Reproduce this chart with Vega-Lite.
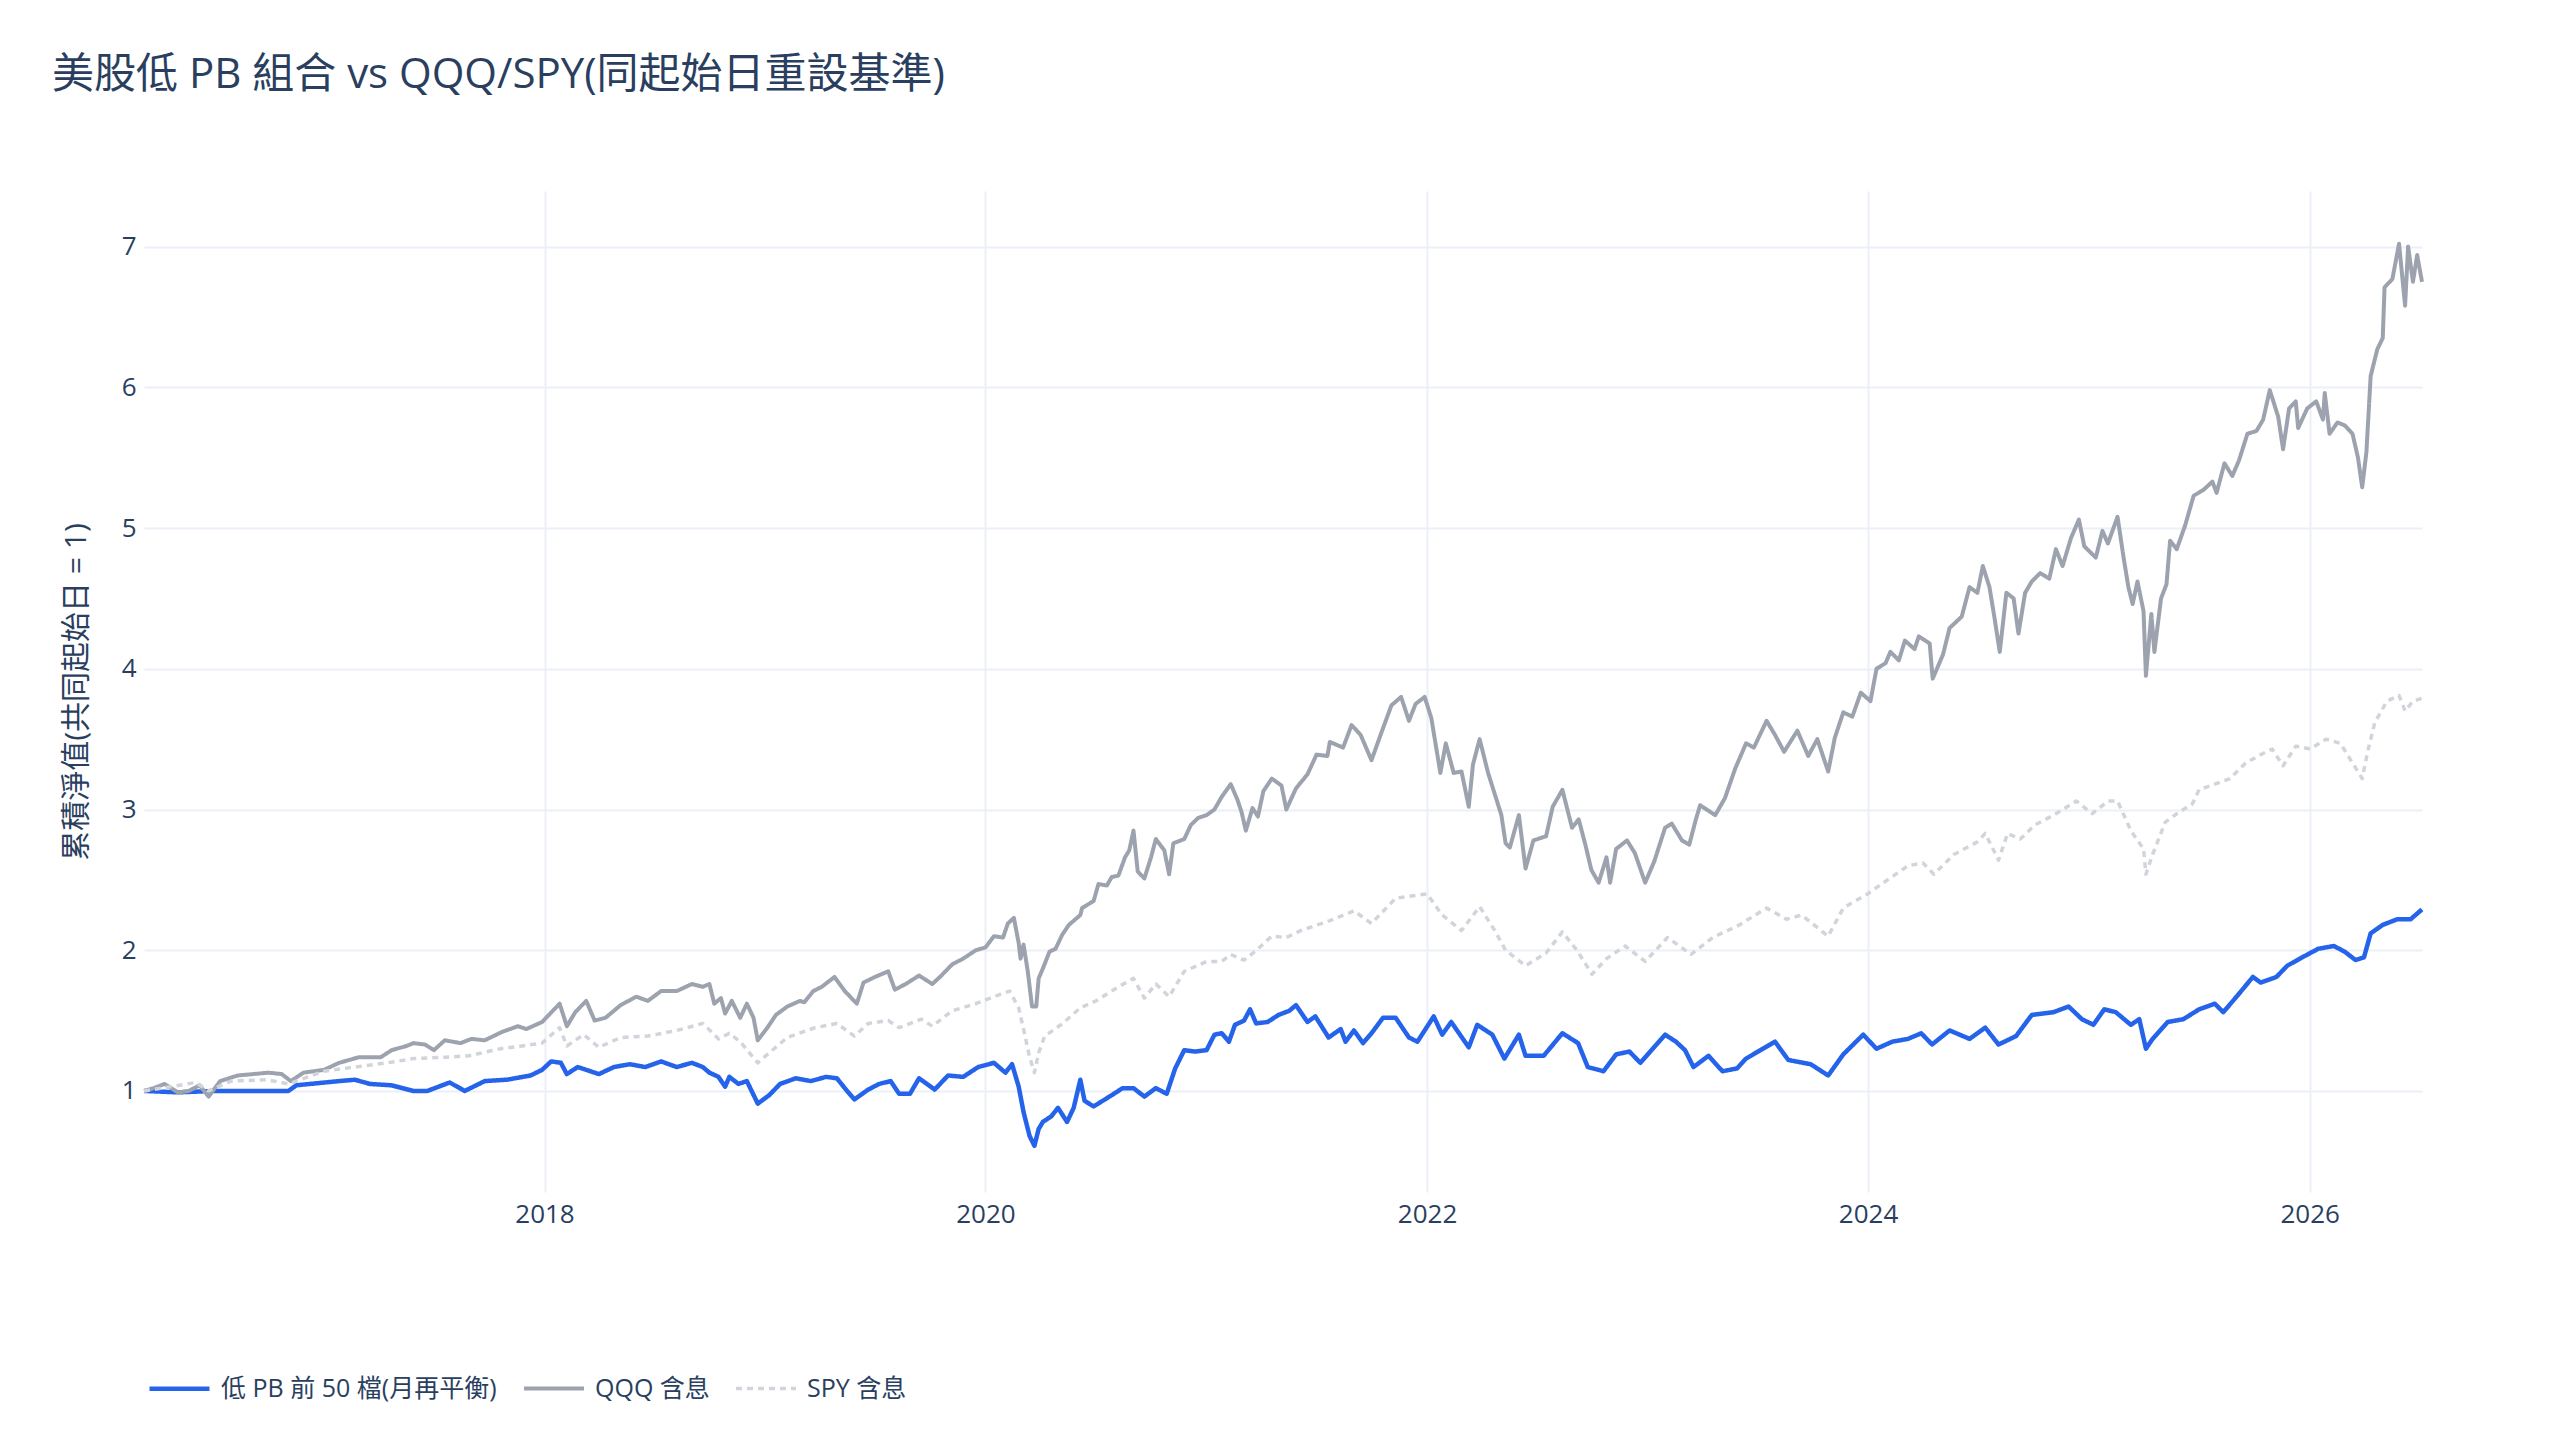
{
  "$schema": "https://vega.github.io/schema/vega-lite/v6.json",
  "autosize": {"type": "none"},
  "width": 2278,
  "height": 1001,
  "padding": {"left": 144, "top": 191, "right": 138, "bottom": 248},
  "background": "white",
  "title": {
    "text": "美股低 PB 組合 vs QQQ/SPY(同起始日重設基準)",
    "anchor": "start",
    "frame": "group",
    "dx": -92,
    "offset": 94,
    "font": "Open Sans, Noto Sans CJK TC",
    "fontSize": 42,
    "fontWeight": "normal",
    "color": "#2a3f5f"
  },
  "config": {
    "view": {"stroke": null},
    "axis": {
      "domain": false,
      "ticks": false,
      "gridColor": "#ebf0f8",
      "gridWidth": 2,
      "labelFont": "Open Sans, Noto Sans CJK TC",
      "labelFontSize": 26,
      "labelColor": "#2a3f5f",
      "titleFont": "Open Sans, Noto Sans CJK TC",
      "titleFontSize": 30,
      "titleFontWeight": "normal",
      "titleColor": "#2a3f5f"
    }
  },
  "data": {
    "values": [
      {"date": "2016-03-09", "series": "低 PB 前 50 檔(月再平衡)", "value": 1.0},
      {"date": "2016-05-04", "series": "低 PB 前 50 檔(月再平衡)", "value": 0.99},
      {"date": "2016-07-02", "series": "低 PB 前 50 檔(月再平衡)", "value": 1.0},
      {"date": "2016-09-06", "series": "低 PB 前 50 檔(月再平衡)", "value": 1.0},
      {"date": "2016-11-03", "series": "低 PB 前 50 檔(月再平衡)", "value": 1.0},
      {"date": "2016-11-16", "series": "低 PB 前 50 檔(月再平衡)", "value": 1.04},
      {"date": "2016-12-09", "series": "低 PB 前 50 檔(月再平衡)", "value": 1.05},
      {"date": "2017-01-26", "series": "低 PB 前 50 檔(月再平衡)", "value": 1.07},
      {"date": "2017-02-21", "series": "低 PB 前 50 檔(月再平衡)", "value": 1.08},
      {"date": "2017-03-18", "series": "低 PB 前 50 檔(月再平衡)", "value": 1.05},
      {"date": "2017-04-23", "series": "低 PB 前 50 檔(月再平衡)", "value": 1.04},
      {"date": "2017-05-29", "series": "低 PB 前 50 檔(月再平衡)", "value": 1.0},
      {"date": "2017-06-21", "series": "低 PB 前 50 檔(月再平衡)", "value": 1.0},
      {"date": "2017-07-28", "series": "低 PB 前 50 檔(月再平衡)", "value": 1.06},
      {"date": "2017-08-22", "series": "低 PB 前 50 檔(月再平衡)", "value": 1.0},
      {"date": "2017-09-24", "series": "低 PB 前 50 檔(月再平衡)", "value": 1.07},
      {"date": "2017-10-31", "series": "低 PB 前 50 檔(月再平衡)", "value": 1.08},
      {"date": "2017-12-09", "series": "低 PB 前 50 檔(月再平衡)", "value": 1.11},
      {"date": "2017-12-28", "series": "低 PB 前 50 檔(月再平衡)", "value": 1.15},
      {"date": "2018-01-12", "series": "低 PB 前 50 檔(月再平衡)", "value": 1.21},
      {"date": "2018-01-28", "series": "低 PB 前 50 檔(月再平衡)", "value": 1.2},
      {"date": "2018-02-07", "series": "低 PB 前 50 檔(月再平衡)", "value": 1.12},
      {"date": "2018-02-25", "series": "低 PB 前 50 檔(月再平衡)", "value": 1.17},
      {"date": "2018-03-18", "series": "低 PB 前 50 檔(月再平衡)", "value": 1.14},
      {"date": "2018-04-01", "series": "低 PB 前 50 檔(月再平衡)", "value": 1.12},
      {"date": "2018-04-26", "series": "低 PB 前 50 檔(月再平衡)", "value": 1.17},
      {"date": "2018-05-22", "series": "低 PB 前 50 檔(月再平衡)", "value": 1.19},
      {"date": "2018-06-17", "series": "低 PB 前 50 檔(月再平衡)", "value": 1.17},
      {"date": "2018-07-13", "series": "低 PB 前 50 檔(月再平衡)", "value": 1.21},
      {"date": "2018-08-08", "series": "低 PB 前 50 檔(月再平衡)", "value": 1.17},
      {"date": "2018-09-02", "series": "低 PB 前 50 檔(月再平衡)", "value": 1.2},
      {"date": "2018-09-20", "series": "低 PB 前 50 檔(月再平衡)", "value": 1.17},
      {"date": "2018-10-01", "series": "低 PB 前 50 檔(月再平衡)", "value": 1.13},
      {"date": "2018-10-16", "series": "低 PB 前 50 檔(月再平衡)", "value": 1.1},
      {"date": "2018-10-27", "series": "低 PB 前 50 檔(月再平衡)", "value": 1.03},
      {"date": "2018-11-03", "series": "低 PB 前 50 檔(月再平衡)", "value": 1.1},
      {"date": "2018-11-18", "series": "低 PB 前 50 檔(月再平衡)", "value": 1.05},
      {"date": "2018-12-02", "series": "低 PB 前 50 檔(月再平衡)", "value": 1.07},
      {"date": "2018-12-20", "series": "低 PB 前 50 檔(月再平衡)", "value": 0.91},
      {"date": "2019-01-08", "series": "低 PB 前 50 檔(月再平衡)", "value": 0.97},
      {"date": "2019-01-26", "series": "低 PB 前 50 檔(月再平衡)", "value": 1.05},
      {"date": "2019-02-21", "series": "低 PB 前 50 檔(月再平衡)", "value": 1.09},
      {"date": "2019-03-18", "series": "低 PB 前 50 檔(月再平衡)", "value": 1.07},
      {"date": "2019-04-12", "series": "低 PB 前 50 檔(月再平衡)", "value": 1.1},
      {"date": "2019-04-30", "series": "低 PB 前 50 檔(月再平衡)", "value": 1.09},
      {"date": "2019-05-15", "series": "低 PB 前 50 檔(月再平衡)", "value": 1.01},
      {"date": "2019-05-29", "series": "低 PB 前 50 檔(月再平衡)", "value": 0.94},
      {"date": "2019-06-21", "series": "低 PB 前 50 檔(月再平衡)", "value": 1.01},
      {"date": "2019-07-09", "series": "低 PB 前 50 檔(月再平衡)", "value": 1.05},
      {"date": "2019-07-28", "series": "低 PB 前 50 檔(月再平衡)", "value": 1.07},
      {"date": "2019-08-11", "series": "低 PB 前 50 檔(月再平衡)", "value": 0.98},
      {"date": "2019-08-29", "series": "低 PB 前 50 檔(月再平衡)", "value": 0.98},
      {"date": "2019-09-13", "series": "低 PB 前 50 檔(月再平衡)", "value": 1.09},
      {"date": "2019-10-09", "series": "低 PB 前 50 檔(月再平衡)", "value": 1.01},
      {"date": "2019-10-31", "series": "低 PB 前 50 檔(月再平衡)", "value": 1.11},
      {"date": "2019-11-25", "series": "低 PB 前 50 檔(月再平衡)", "value": 1.1},
      {"date": "2019-12-20", "series": "低 PB 前 50 檔(月再平衡)", "value": 1.17},
      {"date": "2020-01-15", "series": "低 PB 前 50 檔(月再平衡)", "value": 1.2},
      {"date": "2020-02-03", "series": "低 PB 前 50 檔(月再平衡)", "value": 1.13},
      {"date": "2020-02-14", "series": "低 PB 前 50 檔(月再平衡)", "value": 1.19},
      {"date": "2020-02-25", "series": "低 PB 前 50 檔(月再平衡)", "value": 1.03},
      {"date": "2020-03-04", "series": "低 PB 前 50 檔(月再平衡)", "value": 0.85},
      {"date": "2020-03-14", "series": "低 PB 前 50 檔(月再平衡)", "value": 0.68},
      {"date": "2020-03-22", "series": "低 PB 前 50 檔(月再平衡)", "value": 0.61},
      {"date": "2020-03-29", "series": "低 PB 前 50 檔(月再平衡)", "value": 0.73},
      {"date": "2020-04-05", "series": "低 PB 前 50 檔(月再平衡)", "value": 0.78},
      {"date": "2020-04-19", "series": "低 PB 前 50 檔(月再平衡)", "value": 0.82},
      {"date": "2020-04-30", "series": "低 PB 前 50 檔(月再平衡)", "value": 0.88},
      {"date": "2020-05-15", "series": "低 PB 前 50 檔(月再平衡)", "value": 0.78},
      {"date": "2020-05-26", "series": "低 PB 前 50 檔(月再平衡)", "value": 0.88},
      {"date": "2020-06-06", "series": "低 PB 前 50 檔(月再平衡)", "value": 1.08},
      {"date": "2020-06-13", "series": "低 PB 前 50 檔(月再平衡)", "value": 0.93},
      {"date": "2020-06-28", "series": "低 PB 前 50 檔(月再平衡)", "value": 0.89},
      {"date": "2020-07-13", "series": "低 PB 前 50 檔(月再平衡)", "value": 0.93},
      {"date": "2020-07-28", "series": "低 PB 前 50 檔(月再平衡)", "value": 0.97},
      {"date": "2020-08-15", "series": "低 PB 前 50 檔(月再平衡)", "value": 1.02},
      {"date": "2020-09-02", "series": "低 PB 前 50 檔(月再平衡)", "value": 1.02},
      {"date": "2020-09-20", "series": "低 PB 前 50 檔(月再平衡)", "value": 0.96},
      {"date": "2020-10-09", "series": "低 PB 前 50 檔(月再平衡)", "value": 1.02},
      {"date": "2020-10-27", "series": "低 PB 前 50 檔(月再平衡)", "value": 0.98},
      {"date": "2020-11-10", "series": "低 PB 前 50 檔(月再平衡)", "value": 1.16},
      {"date": "2020-11-25", "series": "低 PB 前 50 檔(月再平衡)", "value": 1.29},
      {"date": "2020-12-13", "series": "低 PB 前 50 檔(月再平衡)", "value": 1.28},
      {"date": "2021-01-01", "series": "低 PB 前 50 檔(月再平衡)", "value": 1.29},
      {"date": "2021-01-14", "series": "低 PB 前 50 檔(月再平衡)", "value": 1.4},
      {"date": "2021-01-26", "series": "低 PB 前 50 檔(月再平衡)", "value": 1.41},
      {"date": "2021-02-07", "series": "低 PB 前 50 檔(月再平衡)", "value": 1.35},
      {"date": "2021-02-17", "series": "低 PB 前 50 檔(月再平衡)", "value": 1.47},
      {"date": "2021-03-04", "series": "低 PB 前 50 檔(月再平衡)", "value": 1.5},
      {"date": "2021-03-14", "series": "低 PB 前 50 檔(月再平衡)", "value": 1.58},
      {"date": "2021-03-24", "series": "低 PB 前 50 檔(月再平衡)", "value": 1.48},
      {"date": "2021-04-12", "series": "低 PB 前 50 檔(月再平衡)", "value": 1.49},
      {"date": "2021-04-30", "series": "低 PB 前 50 檔(月再平衡)", "value": 1.54},
      {"date": "2021-05-18", "series": "低 PB 前 50 檔(月再平衡)", "value": 1.57},
      {"date": "2021-05-29", "series": "低 PB 前 50 檔(月再平衡)", "value": 1.61},
      {"date": "2021-06-17", "series": "低 PB 前 50 檔(月再平衡)", "value": 1.49},
      {"date": "2021-06-30", "series": "低 PB 前 50 檔(月再平衡)", "value": 1.53},
      {"date": "2021-07-22", "series": "低 PB 前 50 檔(月再平衡)", "value": 1.38},
      {"date": "2021-08-11", "series": "低 PB 前 50 檔(月再平衡)", "value": 1.44},
      {"date": "2021-08-19", "series": "低 PB 前 50 檔(月再平衡)", "value": 1.35},
      {"date": "2021-09-02", "series": "低 PB 前 50 檔(月再平衡)", "value": 1.43},
      {"date": "2021-09-17", "series": "低 PB 前 50 檔(月再平衡)", "value": 1.34},
      {"date": "2021-10-01", "series": "低 PB 前 50 檔(月再平衡)", "value": 1.41},
      {"date": "2021-10-20", "series": "低 PB 前 50 檔(月再平衡)", "value": 1.52},
      {"date": "2021-11-10", "series": "低 PB 前 50 檔(月再平衡)", "value": 1.52},
      {"date": "2021-12-02", "series": "低 PB 前 50 檔(月再平衡)", "value": 1.38},
      {"date": "2021-12-16", "series": "低 PB 前 50 檔(月再平衡)", "value": 1.35},
      {"date": "2022-01-12", "series": "低 PB 前 50 檔(月再平衡)", "value": 1.53},
      {"date": "2022-01-26", "series": "低 PB 前 50 檔(月再平衡)", "value": 1.4},
      {"date": "2022-02-10", "series": "低 PB 前 50 檔(月再平衡)", "value": 1.49},
      {"date": "2022-03-11", "series": "低 PB 前 50 檔(月再平衡)", "value": 1.31},
      {"date": "2022-03-25", "series": "低 PB 前 50 檔(月再平衡)", "value": 1.47},
      {"date": "2022-04-19", "series": "低 PB 前 50 檔(月再平衡)", "value": 1.4},
      {"date": "2022-05-09", "series": "低 PB 前 50 檔(月再平衡)", "value": 1.23},
      {"date": "2022-06-02", "series": "低 PB 前 50 檔(月再平衡)", "value": 1.4},
      {"date": "2022-06-13", "series": "低 PB 前 50 檔(月再平衡)", "value": 1.25},
      {"date": "2022-07-13", "series": "低 PB 前 50 檔(月再平衡)", "value": 1.25},
      {"date": "2022-08-13", "series": "低 PB 前 50 檔(月再平衡)", "value": 1.41},
      {"date": "2022-09-08", "series": "低 PB 前 50 檔(月再平衡)", "value": 1.34},
      {"date": "2022-09-24", "series": "低 PB 前 50 檔(月再平衡)", "value": 1.17},
      {"date": "2022-10-20", "series": "低 PB 前 50 檔(月再平衡)", "value": 1.14},
      {"date": "2022-11-10", "series": "低 PB 前 50 檔(月再平衡)", "value": 1.26},
      {"date": "2022-12-02", "series": "低 PB 前 50 檔(月再平衡)", "value": 1.28},
      {"date": "2022-12-20", "series": "低 PB 前 50 檔(月再平衡)", "value": 1.2},
      {"date": "2023-01-30", "series": "低 PB 前 50 檔(月再平衡)", "value": 1.4},
      {"date": "2023-02-17", "series": "低 PB 前 50 檔(月再平衡)", "value": 1.35},
      {"date": "2023-03-04", "series": "低 PB 前 50 檔(月再平衡)", "value": 1.29},
      {"date": "2023-03-18", "series": "低 PB 前 50 檔(月再平衡)", "value": 1.17},
      {"date": "2023-04-12", "series": "低 PB 前 50 檔(月再平衡)", "value": 1.25},
      {"date": "2023-05-05", "series": "低 PB 前 50 檔(月再平衡)", "value": 1.14},
      {"date": "2023-05-29", "series": "低 PB 前 50 檔(月再平衡)", "value": 1.16},
      {"date": "2023-06-13", "series": "低 PB 前 50 檔(月再平衡)", "value": 1.23},
      {"date": "2023-07-31", "series": "低 PB 前 50 檔(月再平衡)", "value": 1.35},
      {"date": "2023-08-22", "series": "低 PB 前 50 檔(月再平衡)", "value": 1.22},
      {"date": "2023-09-28", "series": "低 PB 前 50 檔(月再平衡)", "value": 1.19},
      {"date": "2023-10-27", "series": "低 PB 前 50 檔(月再平衡)", "value": 1.11},
      {"date": "2023-11-21", "series": "低 PB 前 50 檔(月再平衡)", "value": 1.26},
      {"date": "2023-12-24", "series": "低 PB 前 50 檔(月再平衡)", "value": 1.4},
      {"date": "2024-01-15", "series": "低 PB 前 50 檔(月再平衡)", "value": 1.3},
      {"date": "2024-02-10", "series": "低 PB 前 50 檔(月再平衡)", "value": 1.35},
      {"date": "2024-03-07", "series": "低 PB 前 50 檔(月再平衡)", "value": 1.37},
      {"date": "2024-03-29", "series": "低 PB 前 50 檔(月再平衡)", "value": 1.41},
      {"date": "2024-04-16", "series": "低 PB 前 50 檔(月再平衡)", "value": 1.33},
      {"date": "2024-05-15", "series": "低 PB 前 50 檔(月再平衡)", "value": 1.43},
      {"date": "2024-06-17", "series": "低 PB 前 50 檔(月再平衡)", "value": 1.37},
      {"date": "2024-07-13", "series": "低 PB 前 50 檔(月再平衡)", "value": 1.45},
      {"date": "2024-08-04", "series": "低 PB 前 50 檔(月再平衡)", "value": 1.33},
      {"date": "2024-09-02", "series": "低 PB 前 50 檔(月再平衡)", "value": 1.39},
      {"date": "2024-09-28", "series": "低 PB 前 50 檔(月再平衡)", "value": 1.54},
      {"date": "2024-11-03", "series": "低 PB 前 50 檔(月再平衡)", "value": 1.56},
      {"date": "2024-11-28", "series": "低 PB 前 50 檔(月再平衡)", "value": 1.6},
      {"date": "2024-12-20", "series": "低 PB 前 50 檔(月再平衡)", "value": 1.51},
      {"date": "2025-01-08", "series": "低 PB 前 50 檔(月再平衡)", "value": 1.47},
      {"date": "2025-01-26", "series": "低 PB 前 50 檔(月再平衡)", "value": 1.58},
      {"date": "2025-02-14", "series": "低 PB 前 50 檔(月再平衡)", "value": 1.56},
      {"date": "2025-03-11", "series": "低 PB 前 50 檔(月再平衡)", "value": 1.47},
      {"date": "2025-03-25", "series": "低 PB 前 50 檔(月再平衡)", "value": 1.51},
      {"date": "2025-04-05", "series": "低 PB 前 50 檔(月再平衡)", "value": 1.3},
      {"date": "2025-04-16", "series": "低 PB 前 50 檔(月再平衡)", "value": 1.37},
      {"date": "2025-05-11", "series": "低 PB 前 50 檔(月再平衡)", "value": 1.49},
      {"date": "2025-06-06", "series": "低 PB 前 50 檔(月再平衡)", "value": 1.51},
      {"date": "2025-07-02", "series": "低 PB 前 50 檔(月再平衡)", "value": 1.58},
      {"date": "2025-07-28", "series": "低 PB 前 50 檔(月再平衡)", "value": 1.62},
      {"date": "2025-08-11", "series": "低 PB 前 50 檔(月再平衡)", "value": 1.56},
      {"date": "2025-09-04", "series": "低 PB 前 50 檔(月再平衡)", "value": 1.68},
      {"date": "2025-09-29", "series": "低 PB 前 50 檔(月再平衡)", "value": 1.81},
      {"date": "2025-10-12", "series": "低 PB 前 50 檔(月再平衡)", "value": 1.77},
      {"date": "2025-11-07", "series": "低 PB 前 50 檔(月再平衡)", "value": 1.81},
      {"date": "2025-11-25", "series": "低 PB 前 50 檔(月再平衡)", "value": 1.89},
      {"date": "2025-12-20", "series": "低 PB 前 50 檔(月再平衡)", "value": 1.95},
      {"date": "2026-01-15", "series": "低 PB 前 50 檔(月再平衡)", "value": 2.01},
      {"date": "2026-02-10", "series": "低 PB 前 50 檔(月再平衡)", "value": 2.03},
      {"date": "2026-02-28", "series": "低 PB 前 50 檔(月再平衡)", "value": 1.99},
      {"date": "2026-03-18", "series": "低 PB 前 50 檔(月再平衡)", "value": 1.93},
      {"date": "2026-04-01", "series": "低 PB 前 50 檔(月再平衡)", "value": 1.95},
      {"date": "2026-04-12", "series": "低 PB 前 50 檔(月再平衡)", "value": 2.12},
      {"date": "2026-05-02", "series": "低 PB 前 50 檔(月再平衡)", "value": 2.18},
      {"date": "2026-05-26", "series": "低 PB 前 50 檔(月再平衡)", "value": 2.22},
      {"date": "2026-06-17", "series": "低 PB 前 50 檔(月再平衡)", "value": 2.22},
      {"date": "2026-07-06", "series": "低 PB 前 50 檔(月再平衡)", "value": 2.29},

      {"date": "2016-03-09", "series": "QQQ 含息", "value": 1.0},
      {"date": "2016-03-25", "series": "QQQ 含息", "value": 1.02},
      {"date": "2016-04-12", "series": "QQQ 含息", "value": 1.05},
      {"date": "2016-05-04", "series": "QQQ 含息", "value": 0.99},
      {"date": "2016-05-22", "series": "QQQ 含息", "value": 1.0},
      {"date": "2016-06-09", "series": "QQQ 含息", "value": 1.04},
      {"date": "2016-06-24", "series": "QQQ 含息", "value": 0.96},
      {"date": "2016-07-13", "series": "QQQ 含息", "value": 1.07},
      {"date": "2016-08-11", "series": "QQQ 含息", "value": 1.11},
      {"date": "2016-09-06", "series": "QQQ 含息", "value": 1.12},
      {"date": "2016-10-01", "series": "QQQ 含息", "value": 1.13},
      {"date": "2016-10-23", "series": "QQQ 含息", "value": 1.12},
      {"date": "2016-11-07", "series": "QQQ 含息", "value": 1.07},
      {"date": "2016-11-28", "series": "QQQ 含息", "value": 1.13},
      {"date": "2017-01-01", "series": "QQQ 含息", "value": 1.15},
      {"date": "2017-01-26", "series": "QQQ 含息", "value": 1.2},
      {"date": "2017-02-28", "series": "QQQ 含息", "value": 1.24},
      {"date": "2017-04-05", "series": "QQQ 含息", "value": 1.24},
      {"date": "2017-04-23", "series": "QQQ 含息", "value": 1.29},
      {"date": "2017-05-18", "series": "QQQ 含息", "value": 1.32},
      {"date": "2017-05-29", "series": "QQQ 含息", "value": 1.34},
      {"date": "2017-06-17", "series": "QQQ 含息", "value": 1.33},
      {"date": "2017-07-02", "series": "QQQ 含息", "value": 1.29},
      {"date": "2017-07-20", "series": "QQQ 含息", "value": 1.36},
      {"date": "2017-08-15", "series": "QQQ 含息", "value": 1.34},
      {"date": "2017-09-02", "series": "QQQ 含息", "value": 1.37},
      {"date": "2017-09-24", "series": "QQQ 含息", "value": 1.36},
      {"date": "2017-10-23", "series": "QQQ 含息", "value": 1.42},
      {"date": "2017-11-18", "series": "QQQ 含息", "value": 1.46},
      {"date": "2017-12-02", "series": "QQQ 含息", "value": 1.44},
      {"date": "2017-12-28", "series": "QQQ 含息", "value": 1.49},
      {"date": "2018-01-26", "series": "QQQ 含息", "value": 1.62},
      {"date": "2018-02-07", "series": "QQQ 含息", "value": 1.46},
      {"date": "2018-02-21", "series": "QQQ 含息", "value": 1.56},
      {"date": "2018-03-11", "series": "QQQ 含息", "value": 1.64},
      {"date": "2018-03-25", "series": "QQQ 含息", "value": 1.5},
      {"date": "2018-04-12", "series": "QQQ 含息", "value": 1.52},
      {"date": "2018-05-07", "series": "QQQ 含息", "value": 1.61},
      {"date": "2018-06-02", "series": "QQQ 含息", "value": 1.67},
      {"date": "2018-06-21", "series": "QQQ 含息", "value": 1.64},
      {"date": "2018-07-13", "series": "QQQ 含息", "value": 1.71},
      {"date": "2018-08-08", "series": "QQQ 含息", "value": 1.71},
      {"date": "2018-09-02", "series": "QQQ 含息", "value": 1.76},
      {"date": "2018-09-20", "series": "QQQ 含息", "value": 1.74},
      {"date": "2018-10-01", "series": "QQQ 含息", "value": 1.76},
      {"date": "2018-10-09", "series": "QQQ 含息", "value": 1.62},
      {"date": "2018-10-20", "series": "QQQ 含息", "value": 1.66},
      {"date": "2018-10-27", "series": "QQQ 含息", "value": 1.55},
      {"date": "2018-11-07", "series": "QQQ 含息", "value": 1.64},
      {"date": "2018-11-21", "series": "QQQ 含息", "value": 1.52},
      {"date": "2018-12-02", "series": "QQQ 含息", "value": 1.62},
      {"date": "2018-12-13", "series": "QQQ 含息", "value": 1.52},
      {"date": "2018-12-20", "series": "QQQ 含息", "value": 1.36},
      {"date": "2019-01-05", "series": "QQQ 含息", "value": 1.45},
      {"date": "2019-01-19", "series": "QQQ 含息", "value": 1.54},
      {"date": "2019-02-07", "series": "QQQ 含息", "value": 1.6},
      {"date": "2019-02-28", "series": "QQQ 含息", "value": 1.64},
      {"date": "2019-03-07", "series": "QQQ 含息", "value": 1.63},
      {"date": "2019-03-22", "series": "QQQ 含息", "value": 1.71},
      {"date": "2019-04-05", "series": "QQQ 含息", "value": 1.74},
      {"date": "2019-04-26", "series": "QQQ 含息", "value": 1.81},
      {"date": "2019-05-13", "series": "QQQ 含息", "value": 1.71},
      {"date": "2019-06-02", "series": "QQQ 含息", "value": 1.62},
      {"date": "2019-06-13", "series": "QQQ 含息", "value": 1.77},
      {"date": "2019-07-02", "series": "QQQ 含息", "value": 1.81},
      {"date": "2019-07-24", "series": "QQQ 含息", "value": 1.85},
      {"date": "2019-08-04", "series": "QQQ 含息", "value": 1.72},
      {"date": "2019-08-22", "series": "QQQ 含息", "value": 1.76},
      {"date": "2019-09-13", "series": "QQQ 含息", "value": 1.82},
      {"date": "2019-10-05", "series": "QQQ 含息", "value": 1.76},
      {"date": "2019-10-20", "series": "QQQ 含息", "value": 1.82},
      {"date": "2019-11-07", "series": "QQQ 含息", "value": 1.9},
      {"date": "2019-11-25", "series": "QQQ 含息", "value": 1.94},
      {"date": "2019-12-16", "series": "QQQ 含息", "value": 2.0},
      {"date": "2020-01-01", "series": "QQQ 含息", "value": 2.02},
      {"date": "2020-01-15", "series": "QQQ 含息", "value": 2.1},
      {"date": "2020-01-30", "series": "QQQ 含息", "value": 2.09},
      {"date": "2020-02-07", "series": "QQQ 含息", "value": 2.19},
      {"date": "2020-02-17", "series": "QQQ 含息", "value": 2.23},
      {"date": "2020-02-25", "series": "QQQ 含息", "value": 2.05},
      {"date": "2020-02-28", "series": "QQQ 含息", "value": 1.94},
      {"date": "2020-03-04", "series": "QQQ 含息", "value": 2.04},
      {"date": "2020-03-11", "series": "QQQ 含息", "value": 1.85},
      {"date": "2020-03-18", "series": "QQQ 含息", "value": 1.6},
      {"date": "2020-03-25", "series": "QQQ 含息", "value": 1.6},
      {"date": "2020-03-29", "series": "QQQ 含息", "value": 1.8},
      {"date": "2020-04-05", "series": "QQQ 含息", "value": 1.87},
      {"date": "2020-04-16", "series": "QQQ 含息", "value": 1.99},
      {"date": "2020-04-26", "series": "QQQ 含息", "value": 2.01},
      {"date": "2020-05-07", "series": "QQQ 含息", "value": 2.11},
      {"date": "2020-05-18", "series": "QQQ 含息", "value": 2.18},
      {"date": "2020-06-06", "series": "QQQ 含息", "value": 2.25},
      {"date": "2020-06-09", "series": "QQQ 含息", "value": 2.3},
      {"date": "2020-06-28", "series": "QQQ 含息", "value": 2.35},
      {"date": "2020-07-06", "series": "QQQ 含息", "value": 2.47},
      {"date": "2020-07-20", "series": "QQQ 含息", "value": 2.46},
      {"date": "2020-07-28", "series": "QQQ 含息", "value": 2.52},
      {"date": "2020-08-08", "series": "QQQ 含息", "value": 2.53},
      {"date": "2020-08-19", "series": "QQQ 含息", "value": 2.66},
      {"date": "2020-08-26", "series": "QQQ 含息", "value": 2.71},
      {"date": "2020-09-02", "series": "QQQ 含息", "value": 2.85},
      {"date": "2020-09-09", "series": "QQQ 含息", "value": 2.56},
      {"date": "2020-09-20", "series": "QQQ 含息", "value": 2.51},
      {"date": "2020-10-01", "series": "QQQ 含息", "value": 2.66},
      {"date": "2020-10-09", "series": "QQQ 含息", "value": 2.79},
      {"date": "2020-10-23", "series": "QQQ 含息", "value": 2.71},
      {"date": "2020-10-31", "series": "QQQ 含息", "value": 2.54},
      {"date": "2020-11-07", "series": "QQQ 含息", "value": 2.76},
      {"date": "2020-11-25", "series": "QQQ 含息", "value": 2.79},
      {"date": "2020-12-06", "series": "QQQ 含息", "value": 2.89},
      {"date": "2020-12-18", "series": "QQQ 含息", "value": 2.94},
      {"date": "2021-01-01", "series": "QQQ 含息", "value": 2.96},
      {"date": "2021-01-14", "series": "QQQ 含息", "value": 3.0},
      {"date": "2021-01-26", "series": "QQQ 含息", "value": 3.09},
      {"date": "2021-02-10", "series": "QQQ 含息", "value": 3.18},
      {"date": "2021-02-21", "series": "QQQ 含息", "value": 3.07},
      {"date": "2021-02-28", "series": "QQQ 含息", "value": 2.98},
      {"date": "2021-03-07", "series": "QQQ 含息", "value": 2.85},
      {"date": "2021-03-18", "series": "QQQ 含息", "value": 3.01},
      {"date": "2021-03-27", "series": "QQQ 含息", "value": 2.95},
      {"date": "2021-04-05", "series": "QQQ 含息", "value": 3.13},
      {"date": "2021-04-19", "series": "QQQ 含息", "value": 3.22},
      {"date": "2021-05-05", "series": "QQQ 含息", "value": 3.17},
      {"date": "2021-05-13", "series": "QQQ 含息", "value": 3.0},
      {"date": "2021-05-29", "series": "QQQ 含息", "value": 3.15},
      {"date": "2021-06-17", "series": "QQQ 含息", "value": 3.25},
      {"date": "2021-07-02", "series": "QQQ 含息", "value": 3.39},
      {"date": "2021-07-20", "series": "QQQ 含息", "value": 3.38},
      {"date": "2021-07-24", "series": "QQQ 含息", "value": 3.48},
      {"date": "2021-08-15", "series": "QQQ 含息", "value": 3.44},
      {"date": "2021-08-29", "series": "QQQ 含息", "value": 3.6},
      {"date": "2021-09-13", "series": "QQQ 含息", "value": 3.53},
      {"date": "2021-10-01", "series": "QQQ 含息", "value": 3.35},
      {"date": "2021-10-16", "series": "QQQ 含息", "value": 3.53},
      {"date": "2021-11-03", "series": "QQQ 含息", "value": 3.74},
      {"date": "2021-11-19", "series": "QQQ 含息", "value": 3.8},
      {"date": "2021-12-02", "series": "QQQ 含息", "value": 3.63},
      {"date": "2021-12-13", "series": "QQQ 含息", "value": 3.75},
      {"date": "2021-12-28", "series": "QQQ 含息", "value": 3.8},
      {"date": "2022-01-08", "series": "QQQ 含息", "value": 3.65},
      {"date": "2022-01-23", "series": "QQQ 含息", "value": 3.26},
      {"date": "2022-02-01", "series": "QQQ 含息", "value": 3.47},
      {"date": "2022-02-14", "series": "QQQ 含息", "value": 3.26},
      {"date": "2022-02-27", "series": "QQQ 含息", "value": 3.27},
      {"date": "2022-03-11", "series": "QQQ 含息", "value": 3.02},
      {"date": "2022-03-18", "series": "QQQ 含息", "value": 3.32},
      {"date": "2022-03-29", "series": "QQQ 含息", "value": 3.5},
      {"date": "2022-04-12", "series": "QQQ 含息", "value": 3.26},
      {"date": "2022-04-23", "series": "QQQ 含息", "value": 3.11},
      {"date": "2022-05-04", "series": "QQQ 含息", "value": 2.96},
      {"date": "2022-05-11", "series": "QQQ 含息", "value": 2.76},
      {"date": "2022-05-18", "series": "QQQ 含息", "value": 2.73},
      {"date": "2022-06-02", "series": "QQQ 含息", "value": 2.96},
      {"date": "2022-06-13", "series": "QQQ 含息", "value": 2.58},
      {"date": "2022-06-26", "series": "QQQ 含息", "value": 2.78},
      {"date": "2022-07-17", "series": "QQQ 含息", "value": 2.81},
      {"date": "2022-07-28", "series": "QQQ 含息", "value": 3.02},
      {"date": "2022-08-13", "series": "QQQ 含息", "value": 3.14},
      {"date": "2022-08-29", "series": "QQQ 含息", "value": 2.87},
      {"date": "2022-09-09", "series": "QQQ 含息", "value": 2.93},
      {"date": "2022-09-20", "series": "QQQ 含息", "value": 2.75},
      {"date": "2022-09-30", "series": "QQQ 含息", "value": 2.57},
      {"date": "2022-10-12", "series": "QQQ 含息", "value": 2.48},
      {"date": "2022-10-25", "series": "QQQ 含息", "value": 2.66},
      {"date": "2022-10-31", "series": "QQQ 含息", "value": 2.48},
      {"date": "2022-11-10", "series": "QQQ 含息", "value": 2.72},
      {"date": "2022-11-28", "series": "QQQ 含息", "value": 2.78},
      {"date": "2022-12-11", "series": "QQQ 含息", "value": 2.69},
      {"date": "2022-12-28", "series": "QQQ 含息", "value": 2.48},
      {"date": "2023-01-12", "series": "QQQ 含息", "value": 2.63},
      {"date": "2023-01-30", "series": "QQQ 含息", "value": 2.87},
      {"date": "2023-02-10", "series": "QQQ 含息", "value": 2.9},
      {"date": "2023-02-27", "series": "QQQ 含息", "value": 2.78},
      {"date": "2023-03-11", "series": "QQQ 含息", "value": 2.75},
      {"date": "2023-03-22", "series": "QQQ 含息", "value": 2.93},
      {"date": "2023-03-29", "series": "QQQ 含息", "value": 3.03},
      {"date": "2023-04-23", "series": "QQQ 含息", "value": 2.96},
      {"date": "2023-05-09", "series": "QQQ 含息", "value": 3.08},
      {"date": "2023-05-26", "series": "QQQ 含息", "value": 3.29},
      {"date": "2023-06-13", "series": "QQQ 含息", "value": 3.47},
      {"date": "2023-06-26", "series": "QQQ 含息", "value": 3.44},
      {"date": "2023-07-17", "series": "QQQ 含息", "value": 3.63},
      {"date": "2023-07-31", "series": "QQQ 含息", "value": 3.53},
      {"date": "2023-08-15", "series": "QQQ 含息", "value": 3.41},
      {"date": "2023-09-06", "series": "QQQ 含息", "value": 3.56},
      {"date": "2023-09-24", "series": "QQQ 含息", "value": 3.38},
      {"date": "2023-10-09", "series": "QQQ 含息", "value": 3.5},
      {"date": "2023-10-27", "series": "QQQ 含息", "value": 3.27},
      {"date": "2023-11-07", "series": "QQQ 含息", "value": 3.51},
      {"date": "2023-11-21", "series": "QQQ 含息", "value": 3.69},
      {"date": "2023-12-06", "series": "QQQ 含息", "value": 3.66},
      {"date": "2023-12-20", "series": "QQQ 含息", "value": 3.83},
      {"date": "2024-01-05", "series": "QQQ 含息", "value": 3.77},
      {"date": "2024-01-15", "series": "QQQ 含息", "value": 4.0},
      {"date": "2024-01-30", "series": "QQQ 含息", "value": 4.04},
      {"date": "2024-02-07", "series": "QQQ 含息", "value": 4.12},
      {"date": "2024-02-21", "series": "QQQ 含息", "value": 4.06},
      {"date": "2024-03-02", "series": "QQQ 含息", "value": 4.2},
      {"date": "2024-03-18", "series": "QQQ 含息", "value": 4.14},
      {"date": "2024-03-25", "series": "QQQ 含息", "value": 4.23},
      {"date": "2024-04-12", "series": "QQQ 含息", "value": 4.18},
      {"date": "2024-04-17", "series": "QQQ 含息", "value": 3.93},
      {"date": "2024-05-04", "series": "QQQ 含息", "value": 4.1},
      {"date": "2024-05-15", "series": "QQQ 含息", "value": 4.29},
      {"date": "2024-06-04", "series": "QQQ 含息", "value": 4.37},
      {"date": "2024-06-17", "series": "QQQ 含息", "value": 4.58},
      {"date": "2024-06-30", "series": "QQQ 含息", "value": 4.54},
      {"date": "2024-07-09", "series": "QQQ 含息", "value": 4.73},
      {"date": "2024-07-20", "series": "QQQ 含息", "value": 4.58},
      {"date": "2024-07-28", "series": "QQQ 含息", "value": 4.37},
      {"date": "2024-08-06", "series": "QQQ 含息", "value": 4.12},
      {"date": "2024-08-17", "series": "QQQ 含息", "value": 4.54},
      {"date": "2024-08-29", "series": "QQQ 含息", "value": 4.5},
      {"date": "2024-09-06", "series": "QQQ 含息", "value": 4.25},
      {"date": "2024-09-17", "series": "QQQ 含息", "value": 4.54},
      {"date": "2024-09-28", "series": "QQQ 含息", "value": 4.62},
      {"date": "2024-10-12", "series": "QQQ 含息", "value": 4.68},
      {"date": "2024-10-27", "series": "QQQ 含息", "value": 4.64},
      {"date": "2024-11-07", "series": "QQQ 含息", "value": 4.85},
      {"date": "2024-11-18", "series": "QQQ 含息", "value": 4.73},
      {"date": "2024-12-02", "series": "QQQ 含息", "value": 4.93},
      {"date": "2024-12-15", "series": "QQQ 含息", "value": 5.06},
      {"date": "2024-12-24", "series": "QQQ 含息", "value": 4.87},
      {"date": "2025-01-12", "series": "QQQ 含息", "value": 4.79},
      {"date": "2025-01-23", "series": "QQQ 含息", "value": 4.98},
      {"date": "2025-02-01", "series": "QQQ 含息", "value": 4.89},
      {"date": "2025-02-17", "series": "QQQ 含息", "value": 5.08},
      {"date": "2025-02-27", "series": "QQQ 含息", "value": 4.79},
      {"date": "2025-03-07", "series": "QQQ 含息", "value": 4.58},
      {"date": "2025-03-14", "series": "QQQ 含息", "value": 4.46},
      {"date": "2025-03-22", "series": "QQQ 含息", "value": 4.62},
      {"date": "2025-04-01", "series": "QQQ 含息", "value": 4.41},
      {"date": "2025-04-05", "series": "QQQ 含息", "value": 3.95},
      {"date": "2025-04-14", "series": "QQQ 含息", "value": 4.39},
      {"date": "2025-04-19", "series": "QQQ 含息", "value": 4.12},
      {"date": "2025-04-30", "series": "QQQ 含息", "value": 4.5},
      {"date": "2025-05-09", "series": "QQQ 含息", "value": 4.6},
      {"date": "2025-05-15", "series": "QQQ 含息", "value": 4.91},
      {"date": "2025-05-26", "series": "QQQ 含息", "value": 4.85},
      {"date": "2025-06-09", "series": "QQQ 含息", "value": 5.02},
      {"date": "2025-06-23", "series": "QQQ 含息", "value": 5.23},
      {"date": "2025-07-09", "series": "QQQ 含息", "value": 5.27},
      {"date": "2025-07-24", "series": "QQQ 含息", "value": 5.33},
      {"date": "2025-07-31", "series": "QQQ 含息", "value": 5.25},
      {"date": "2025-08-13", "series": "QQQ 含息", "value": 5.46},
      {"date": "2025-08-26", "series": "QQQ 含息", "value": 5.37},
      {"date": "2025-09-06", "series": "QQQ 含息", "value": 5.48},
      {"date": "2025-09-20", "series": "QQQ 含息", "value": 5.67},
      {"date": "2025-10-05", "series": "QQQ 含息", "value": 5.69},
      {"date": "2025-10-16", "series": "QQQ 含息", "value": 5.77},
      {"date": "2025-10-27", "series": "QQQ 含息", "value": 5.98},
      {"date": "2025-11-10", "series": "QQQ 含息", "value": 5.79},
      {"date": "2025-11-18", "series": "QQQ 含息", "value": 5.56},
      {"date": "2025-11-28", "series": "QQQ 含息", "value": 5.85},
      {"date": "2025-12-09", "series": "QQQ 含息", "value": 5.9},
      {"date": "2025-12-13", "series": "QQQ 含息", "value": 5.71},
      {"date": "2025-12-28", "series": "QQQ 含息", "value": 5.85},
      {"date": "2026-01-12", "series": "QQQ 含息", "value": 5.9},
      {"date": "2026-01-23", "series": "QQQ 含息", "value": 5.77},
      {"date": "2026-01-26", "series": "QQQ 含息", "value": 5.96},
      {"date": "2026-02-03", "series": "QQQ 含息", "value": 5.67},
      {"date": "2026-02-16", "series": "QQQ 含息", "value": 5.75},
      {"date": "2026-02-28", "series": "QQQ 含息", "value": 5.73},
      {"date": "2026-03-13", "series": "QQQ 含息", "value": 5.67},
      {"date": "2026-03-22", "series": "QQQ 含息", "value": 5.5},
      {"date": "2026-03-29", "series": "QQQ 含息", "value": 5.29},
      {"date": "2026-04-05", "series": "QQQ 含息", "value": 5.54},
      {"date": "2026-04-12", "series": "QQQ 含息", "value": 6.08},
      {"date": "2026-04-23", "series": "QQQ 含息", "value": 6.27},
      {"date": "2026-05-02", "series": "QQQ 含息", "value": 6.35},
      {"date": "2026-05-05", "series": "QQQ 含息", "value": 6.71},
      {"date": "2026-05-18", "series": "QQQ 含息", "value": 6.77},
      {"date": "2026-05-29", "series": "QQQ 含息", "value": 7.02},
      {"date": "2026-06-08", "series": "QQQ 含息", "value": 6.58},
      {"date": "2026-06-13", "series": "QQQ 含息", "value": 7.0},
      {"date": "2026-06-21", "series": "QQQ 含息", "value": 6.75},
      {"date": "2026-06-28", "series": "QQQ 含息", "value": 6.94},
      {"date": "2026-07-06", "series": "QQQ 含息", "value": 6.75},

      {"date": "2016-03-09", "series": "SPY 含息", "value": 1.0},
      {"date": "2016-04-08", "series": "SPY 含息", "value": 1.02},
      {"date": "2016-06-02", "series": "SPY 含息", "value": 1.06},
      {"date": "2016-06-24", "series": "SPY 含息", "value": 1.0},
      {"date": "2016-07-31", "series": "SPY 含息", "value": 1.07},
      {"date": "2016-09-28", "series": "SPY 含息", "value": 1.08},
      {"date": "2016-11-03", "series": "SPY 含息", "value": 1.05},
      {"date": "2017-01-01", "series": "SPY 含息", "value": 1.14},
      {"date": "2017-02-21", "series": "SPY 含息", "value": 1.17},
      {"date": "2017-04-16", "series": "SPY 含息", "value": 1.2},
      {"date": "2017-05-29", "series": "SPY 含息", "value": 1.23},
      {"date": "2017-07-20", "series": "SPY 含息", "value": 1.24},
      {"date": "2017-08-29", "series": "SPY 含息", "value": 1.25},
      {"date": "2017-10-20", "series": "SPY 含息", "value": 1.3},
      {"date": "2017-11-25", "series": "SPY 含息", "value": 1.32},
      {"date": "2017-12-28", "series": "SPY 含息", "value": 1.34},
      {"date": "2018-01-26", "series": "SPY 含息", "value": 1.45},
      {"date": "2018-02-07", "series": "SPY 含息", "value": 1.32},
      {"date": "2018-03-07", "series": "SPY 含息", "value": 1.4},
      {"date": "2018-04-01", "series": "SPY 含息", "value": 1.31},
      {"date": "2018-05-07", "series": "SPY 含息", "value": 1.38},
      {"date": "2018-06-21", "series": "SPY 含息", "value": 1.39},
      {"date": "2018-08-08", "series": "SPY 含息", "value": 1.43},
      {"date": "2018-09-20", "series": "SPY 含息", "value": 1.48},
      {"date": "2018-10-16", "series": "SPY 含息", "value": 1.37},
      {"date": "2018-11-03", "series": "SPY 含息", "value": 1.41},
      {"date": "2018-11-21", "series": "SPY 含息", "value": 1.35},
      {"date": "2018-12-20", "series": "SPY 含息", "value": 1.2},
      {"date": "2019-01-05", "series": "SPY 含息", "value": 1.26},
      {"date": "2019-02-07", "series": "SPY 含息", "value": 1.38},
      {"date": "2019-03-25", "series": "SPY 含息", "value": 1.45},
      {"date": "2019-04-30", "series": "SPY 含息", "value": 1.48},
      {"date": "2019-05-29", "series": "SPY 含息", "value": 1.39},
      {"date": "2019-06-21", "series": "SPY 含息", "value": 1.48},
      {"date": "2019-07-24", "series": "SPY 含息", "value": 1.5},
      {"date": "2019-08-11", "series": "SPY 含息", "value": 1.45},
      {"date": "2019-09-17", "series": "SPY 含息", "value": 1.51},
      {"date": "2019-10-05", "series": "SPY 含息", "value": 1.46},
      {"date": "2019-11-07", "series": "SPY 含息", "value": 1.57},
      {"date": "2019-12-16", "series": "SPY 含息", "value": 1.62},
      {"date": "2020-01-15", "series": "SPY 含息", "value": 1.67},
      {"date": "2020-02-10", "series": "SPY 含息", "value": 1.71},
      {"date": "2020-02-25", "series": "SPY 含息", "value": 1.59},
      {"date": "2020-03-04", "series": "SPY 含息", "value": 1.44},
      {"date": "2020-03-14", "series": "SPY 含息", "value": 1.24},
      {"date": "2020-03-22", "series": "SPY 含息", "value": 1.13},
      {"date": "2020-03-29", "series": "SPY 含息", "value": 1.27},
      {"date": "2020-04-08", "series": "SPY 含息", "value": 1.39},
      {"date": "2020-05-05", "series": "SPY 含息", "value": 1.47},
      {"date": "2020-06-06", "series": "SPY 含息", "value": 1.59},
      {"date": "2020-07-02", "series": "SPY 含息", "value": 1.64},
      {"date": "2020-08-08", "series": "SPY 含息", "value": 1.74},
      {"date": "2020-09-02", "series": "SPY 含息", "value": 1.8},
      {"date": "2020-09-20", "series": "SPY 含息", "value": 1.66},
      {"date": "2020-10-09", "series": "SPY 含息", "value": 1.76},
      {"date": "2020-10-31", "series": "SPY 含息", "value": 1.67},
      {"date": "2020-11-25", "series": "SPY 含息", "value": 1.85},
      {"date": "2021-01-01", "series": "SPY 含息", "value": 1.92},
      {"date": "2021-01-26", "series": "SPY 含息", "value": 1.92},
      {"date": "2021-02-10", "series": "SPY 含息", "value": 1.97},
      {"date": "2021-03-04", "series": "SPY 含息", "value": 1.93},
      {"date": "2021-03-22", "series": "SPY 含息", "value": 1.99},
      {"date": "2021-04-19", "series": "SPY 含息", "value": 2.1},
      {"date": "2021-05-13", "series": "SPY 含息", "value": 2.09},
      {"date": "2021-06-06", "series": "SPY 含息", "value": 2.14},
      {"date": "2021-07-24", "series": "SPY 含息", "value": 2.21},
      {"date": "2021-09-02", "series": "SPY 含息", "value": 2.28},
      {"date": "2021-10-01", "series": "SPY 含息", "value": 2.19},
      {"date": "2021-11-10", "series": "SPY 含息", "value": 2.37},
      {"date": "2022-01-01", "series": "SPY 含息", "value": 2.4},
      {"date": "2022-01-26", "series": "SPY 含息", "value": 2.25},
      {"date": "2022-02-27", "series": "SPY 含息", "value": 2.14},
      {"date": "2022-03-29", "series": "SPY 含息", "value": 2.31},
      {"date": "2022-04-23", "series": "SPY 含息", "value": 2.14},
      {"date": "2022-05-11", "series": "SPY 含息", "value": 2.0},
      {"date": "2022-06-13", "series": "SPY 含息", "value": 1.89},
      {"date": "2022-07-17", "series": "SPY 含息", "value": 1.98},
      {"date": "2022-08-13", "series": "SPY 含息", "value": 2.13},
      {"date": "2022-09-06", "series": "SPY 含息", "value": 2.0},
      {"date": "2022-10-01", "series": "SPY 含息", "value": 1.83},
      {"date": "2022-10-25", "series": "SPY 含息", "value": 1.94},
      {"date": "2022-11-25", "series": "SPY 含息", "value": 2.03},
      {"date": "2022-12-28", "series": "SPY 含息", "value": 1.92},
      {"date": "2023-02-03", "series": "SPY 含息", "value": 2.09},
      {"date": "2023-03-14", "series": "SPY 含息", "value": 1.97},
      {"date": "2023-04-19", "series": "SPY 含息", "value": 2.09},
      {"date": "2023-06-02", "series": "SPY 含息", "value": 2.18},
      {"date": "2023-07-17", "series": "SPY 含息", "value": 2.3},
      {"date": "2023-08-19", "series": "SPY 含息", "value": 2.22},
      {"date": "2023-09-13", "series": "SPY 含息", "value": 2.25},
      {"date": "2023-10-27", "series": "SPY 含息", "value": 2.1},
      {"date": "2023-11-21", "series": "SPY 含息", "value": 2.3},
      {"date": "2023-12-31", "series": "SPY 含息", "value": 2.4},
      {"date": "2024-01-30", "series": "SPY 含息", "value": 2.49},
      {"date": "2024-03-07", "series": "SPY 含息", "value": 2.6},
      {"date": "2024-04-01", "series": "SPY 含息", "value": 2.62},
      {"date": "2024-04-19", "series": "SPY 含息", "value": 2.54},
      {"date": "2024-05-22", "series": "SPY 含息", "value": 2.68},
      {"date": "2024-06-30", "series": "SPY 含息", "value": 2.77},
      {"date": "2024-07-13", "series": "SPY 含息", "value": 2.83},
      {"date": "2024-08-04", "series": "SPY 含息", "value": 2.64},
      {"date": "2024-08-19", "series": "SPY 含息", "value": 2.83},
      {"date": "2024-09-09", "series": "SPY 含息", "value": 2.79},
      {"date": "2024-10-03", "series": "SPY 含息", "value": 2.89},
      {"date": "2024-11-03", "series": "SPY 含息", "value": 2.96},
      {"date": "2024-12-11", "series": "SPY 含息", "value": 3.06},
      {"date": "2025-01-06", "series": "SPY 含息", "value": 2.97},
      {"date": "2025-02-01", "series": "SPY 含息", "value": 3.06},
      {"date": "2025-02-17", "series": "SPY 含息", "value": 3.06},
      {"date": "2025-03-11", "series": "SPY 含息", "value": 2.85},
      {"date": "2025-04-01", "series": "SPY 含息", "value": 2.72},
      {"date": "2025-04-05", "series": "SPY 含息", "value": 2.54},
      {"date": "2025-04-16", "series": "SPY 含息", "value": 2.68},
      {"date": "2025-05-07", "series": "SPY 含息", "value": 2.91},
      {"date": "2025-05-26", "series": "SPY 含息", "value": 2.97},
      {"date": "2025-06-21", "series": "SPY 含息", "value": 3.04},
      {"date": "2025-07-02", "series": "SPY 含息", "value": 3.14},
      {"date": "2025-07-28", "series": "SPY 含息", "value": 3.18},
      {"date": "2025-08-22", "series": "SPY 含息", "value": 3.22},
      {"date": "2025-09-17", "series": "SPY 含息", "value": 3.33},
      {"date": "2025-10-12", "series": "SPY 含息", "value": 3.39},
      {"date": "2025-10-31", "series": "SPY 含息", "value": 3.43},
      {"date": "2025-11-18", "series": "SPY 含息", "value": 3.31},
      {"date": "2025-12-09", "series": "SPY 含息", "value": 3.45},
      {"date": "2026-01-02", "series": "SPY 含息", "value": 3.43},
      {"date": "2026-01-28", "series": "SPY 含息", "value": 3.5},
      {"date": "2026-02-21", "series": "SPY 含息", "value": 3.47},
      {"date": "2026-03-13", "series": "SPY 含息", "value": 3.33},
      {"date": "2026-03-25", "series": "SPY 含息", "value": 3.25},
      {"date": "2026-03-29", "series": "SPY 含息", "value": 3.22},
      {"date": "2026-04-07", "series": "SPY 含息", "value": 3.41},
      {"date": "2026-04-19", "series": "SPY 含息", "value": 3.62},
      {"date": "2026-05-09", "series": "SPY 含息", "value": 3.77},
      {"date": "2026-05-29", "series": "SPY 含息", "value": 3.81},
      {"date": "2026-06-08", "series": "SPY 含息", "value": 3.7},
      {"date": "2026-06-21", "series": "SPY 含息", "value": 3.77},
      {"date": "2026-07-06", "series": "SPY 含息", "value": 3.79}
    ]
  },
  "mark": {"type": "line", "strokeJoin": "round", "strokeCap": "butt"},
  "encoding": {
    "x": {
      "field": "date",
      "type": "temporal",
      "title": null,
      "axis": {
        "values": [{"year": 2018}, {"year": 2020}, {"year": 2022}, {"year": 2024}, {"year": 2026}],
        "format": "%Y",
        "labelPadding": 9,
        "labelFlush": false
      }
    },
    "y": {
      "field": "value",
      "type": "quantitative",
      "title": "累積淨值(共同起始日 = 1)",
      "scale": {"domain": [0.282, 7.395], "nice": false, "zero": false},
      "axis": {"values": [1, 2, 3, 4, 5, 6, 7], "labelPadding": 8, "titlePadding": 30}
    },
    "color": {
      "field": "series",
      "type": "nominal",
      "sort": null,
      "scale": {
        "domain": ["低 PB 前 50 檔(月再平衡)", "QQQ 含息", "SPY 含息"],
        "range": ["#2563eb", "#9ca3af", "#d1d5db"]
      },
      "legend": {
        "orient": "none",
        "legendX": 3,
        "legendY": 1165,
        "direction": "horizontal",
        "title": null,
        "symbolType": "stroke",
        "symbolSize": 3600,
        "symbolStrokeWidth": 4,
        "labelFont": "Open Sans, Noto Sans CJK TC",
        "labelFontSize": 25,
        "labelColor": "#2a3f5f",
        "labelLimit": 0,
        "labelOffset": 9,
        "columnPadding": 19
      }
    },
    "strokeDash": {
      "field": "series",
      "type": "nominal",
      "sort": null,
      "scale": {
        "domain": ["低 PB 前 50 檔(月再平衡)", "QQQ 含息", "SPY 含息"],
        "range": [[1, 0], [1, 0], [6, 5]]
      },
      "legend": {
        "orient": "none",
        "legendX": 3,
        "legendY": 1165,
        "direction": "horizontal",
        "title": null,
        "symbolType": "stroke",
        "symbolSize": 3600,
        "symbolStrokeWidth": 4,
        "labelFont": "Open Sans, Noto Sans CJK TC",
        "labelFontSize": 25,
        "labelColor": "#2a3f5f",
        "labelLimit": 0,
        "labelOffset": 9,
        "columnPadding": 19
      }
    },
    "strokeWidth": {
      "field": "series",
      "type": "nominal",
      "sort": null,
      "scale": {
        "domain": ["低 PB 前 50 檔(月再平衡)", "QQQ 含息", "SPY 含息"],
        "range": [4.5, 3.5, 3]
      },
      "legend": null
    }
  }
}
